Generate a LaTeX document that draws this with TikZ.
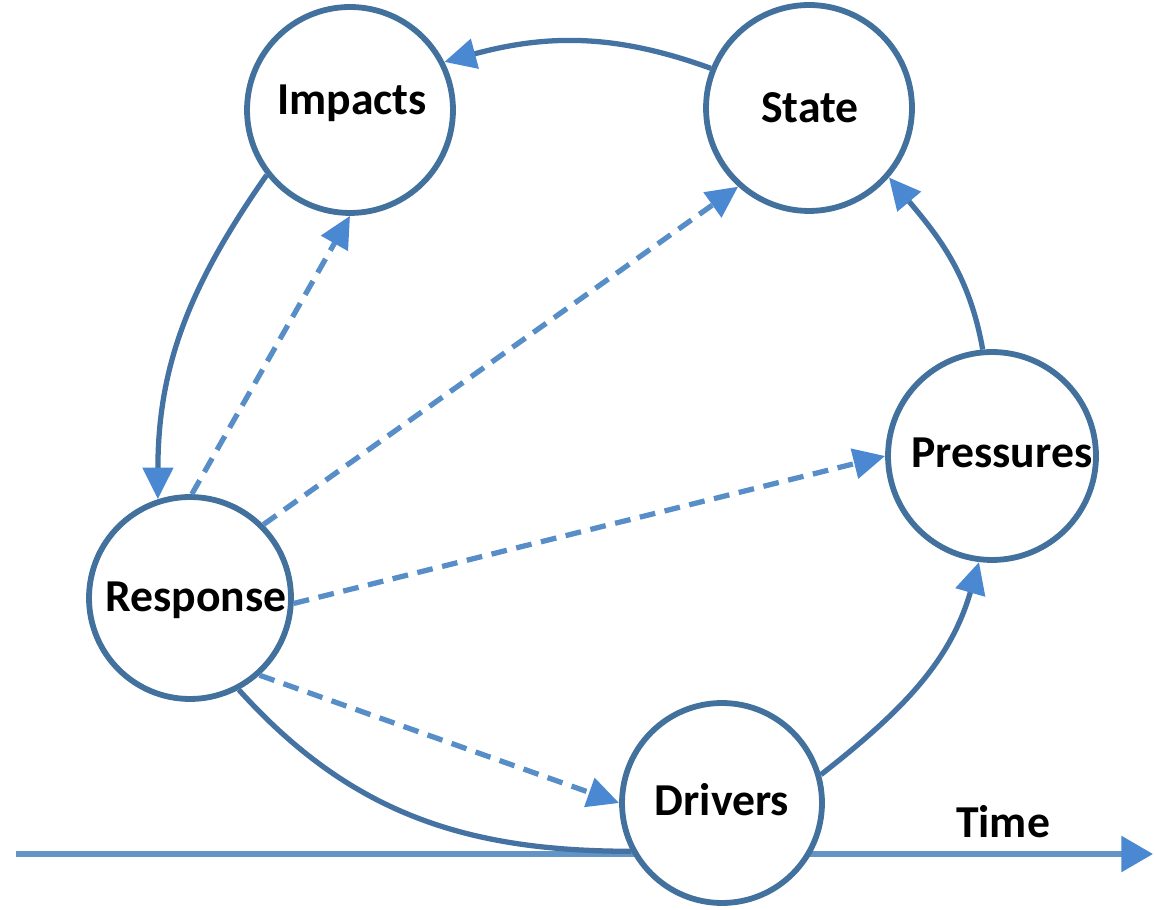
\documentclass[tikz,border=0pt]{standalone}
\usepackage{fontspec}
\setmainfont{Carlito}
\usetikzlibrary{arrows.meta}

\definecolor{ringblue}{RGB}{65,113,156}
\definecolor{flowblue}{RGB}{68,114,162}
\definecolor{tipblue}{RGB}{74,137,210}
\definecolor{dashblue}{RGB}{88,142,200}
\definecolor{timeblue}{RGB}{98,148,198}

\tikzset{
  stage/.style={circle, draw=ringblue, line width=3.3pt, fill=white, inner sep=0pt},
  stagetext/.style={font=\bfseries\fontsize{26}{31}\selectfont, text=black, inner sep=0pt},
  headtip/.style={-{Triangle[length=18pt, width=17pt, color=tipblue]}},
  flow/.style={draw=flowblue, line width=3pt, headtip},
  plainflow/.style={draw=flowblue, line width=3pt},
  influence/.style={draw=dashblue, line width=3pt, dash pattern=on 9pt off 5.5pt, headtip},
  timeline/.style={draw=timeblue, line width=3pt, -{Triangle[length=18pt, width=20pt, color=tipblue]}}
}

\begin{document}
\begin{tikzpicture}[x=0.02cm, y=0.02cm]
  \useasboundingbox (0,0) rectangle (1155,909);

  % time axis, running behind the Drivers circle
  \coordinate (t0) at (16,55);
  \coordinate (t1) at (1153,55);
  \draw[timeline] (t0) -- (t1);
  \node[stagetext] (time) at (1003,87) {Time};

  % the five stages of the cycle
  \node[stage, minimum size=4.12cm] (I) at (350,799) {};
  \node[stage, minimum size=4.12cm] (S) at (809,801) {};
  \node[stage, minimum size=4.16cm] (P) at (992,453) {};
  \node[stage, minimum size=4.04cm] (R) at (190,311) {};
  \node[stage, minimum size=4.00cm] (D) at (722,106) {};

  \node[stagetext] (tI) at (352,806) {Impacts};
  \node[stagetext] (tS) at (810,801) {State};
  \node[stagetext] (tP) at (1002,456) {Pressures};
  \node[stagetext] (tR) at (196,309) {Response};
  \node[stagetext] (tD) at (722,109) {Drivers};

  % solid cycle
  \draw[flow] (S.158) to[out=160, in=15] (I.27);
  \draw[flow] (I.218) to[out=235, in=90] (R.108);
  \draw[plainflow] (R.298) to[out=-48, in=180] (D.208);
  \draw[flow] (D.16) to[out=38, in=-106] (P.263);
  \draw[flow] (P.95) to[out=100, in=-50] (S.319);

  % dashed influences of the response
  \draw[influence] (R.89) -- (I.270);
  \draw[influence] (R.45) -- (S.228);
  \draw[influence] (R.-3) -- (P.180);
  \draw[influence] (R.-48) -- (D.180);
\end{tikzpicture}
\end{document}
